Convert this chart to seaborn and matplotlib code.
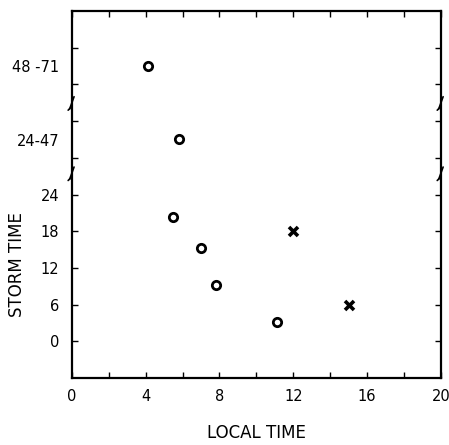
import pandas as pd
import matplotlib
matplotlib.use("Agg")
import matplotlib.pyplot as plt
import seaborn as sns

# open circles (local time, storm time position)
circle_local = [4.1, 5.8, 5.5, 7.0, 7.8, 11.1]
circle_storm = [45.1, 33.1, 20.4, 15.2, 9.2, 3.2]

# crosses
cross_local = [12.0, 15.0]
cross_storm = [18.0, 5.9]

x_ticks = [0, 2, 4, 6, 8, 10, 12, 14, 16, 18, 20]
x_labels = ['0', '', '4', '', '8', '', '12', '', '16', '', '20']
y_ticks = [0, 6, 12, 18, 24, 30, 36, 42, 48]
y_labels = ['0', '6', '12', '18', '24', '', '', '', '']
cat_pos = [33, 45]
cat_labels = ['24-47', '48 -71']
breaks = [27.5, 39.0]

sns.set_style("ticks")
plt.rcParams['font.family'] = ['DejaVu Sans']
plt.rcParams['text.color'] = 'black'
plt.rcParams['axes.labelcolor'] = 'black'

fig = plt.figure(figsize=(4.49, 4.45), dpi=100)
ax = fig.add_axes([0.160, 0.1506, 0.822, 0.8244])

circles = pd.DataFrame({'local': circle_local, 'storm': circle_storm})
crosses = pd.DataFrame({'local': cross_local, 'storm': cross_storm})

sns.scatterplot(data=circles, x='local', y='storm', ax=ax, marker='o',
                s=36, facecolor='white', edgecolor='black', linewidth=2.0, zorder=3)
sns.scatterplot(data=crosses, x='local', y='storm', ax=ax, marker='x',
                s=42, color='black', linewidth=2.6, zorder=3)

ax.set_xlim(0, 20)
ax.set_ylim(-6, 54)
ax.set_xticks(x_ticks)
ax.set_xticklabels(x_labels)
ax.set_yticks(y_ticks)
ax.set_yticklabels(y_labels)
ax.set_yticks(cat_pos, minor=True)
ax.set_yticklabels(cat_labels, minor=True)

ax.tick_params(axis='both', which='major', direction='in', length=4, width=1.0,
               top=True, right=True, labelsize=10.5, pad=9, colors='black')
ax.tick_params(axis='y', which='minor', length=0, labelsize=10.5, pad=9, colors='black')
ax.tick_params(axis='x', pad=8)

for sp in ax.spines.values():
    sp.set_linewidth(1.6)
    sp.set_color('black')

# axis break squiggles on both vertical spines
for yb in breaks:
    for xb in (0, 20):
        ax.plot([xb - 0.12, xb, xb + 0.12], [yb - 1.0, yb, yb + 1.0], color='black',
                lw=1.2, clip_on=False, zorder=4)
        ax.plot([xb - 0.2, xb - 0.1], [yb - 1.2, yb - 0.9], color='black',
                lw=1.2, clip_on=False, zorder=4)

ax.set_xlabel('LOCAL TIME', fontsize=12, labelpad=14)
ax.set_ylabel('STORM TIME', fontsize=12)
ax.yaxis.set_label_coords(-0.125, 0.31)

fig.savefig('out.png', dpi=100)
